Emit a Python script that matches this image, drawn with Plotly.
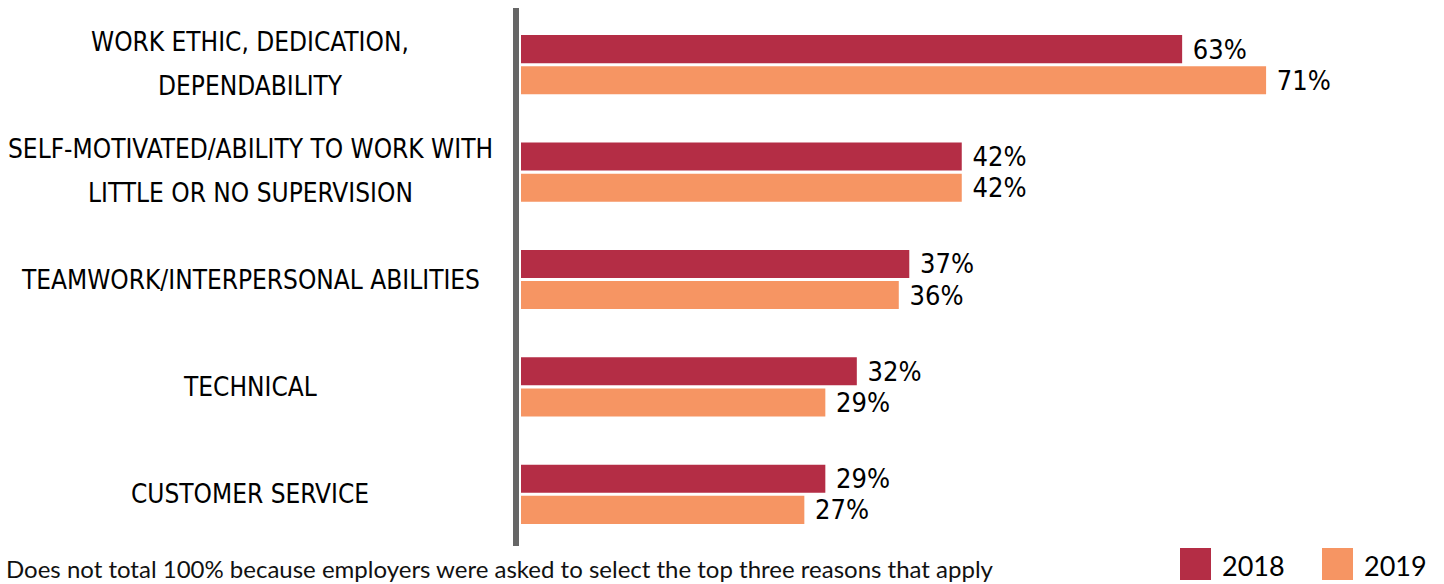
import plotly.graph_objects as go

categories = [
    "WORK ETHIC, DEDICATION,<br>DEPENDABILITY",
    "SELF-MOTIVATED/ABILITY TO WORK WITH<br>LITTLE OR NO SUPERVISION",
    "TEAMWORK/INTERPERSONAL ABILITIES",
    "TECHNICAL",
    "CUSTOMER SERVICE",
]
keys = ["work", "self", "team", "tech", "cust"]
values_2018 = [63, 42, 37, 32, 29]
values_2019 = [71, 42, 36, 29, 27]
series_names = ["2018", "2019"]
colors = ["#B42D45", "#F69563"]
footnote = "Does not total 100% because employers were asked to select the top three reasons that apply"

W, H = 1444, 584
L, R, T, B = 521, 10, 11, 36
PW, PH = W - L - R, H - T - B

def px_x(px):
    return (px - L) / PW

def px_y(py):
    return (H - B - py) / PH

COND = "DejaVu Sans Condensed, Liberation Sans Narrow, sans-serif"

fig = go.Figure()
for name, vals, col in zip(series_names, [values_2018, values_2019], colors):
    fig.add_trace(go.Bar(
        y=keys, x=vals, name=name, orientation="h",
        marker=dict(color=col, line=dict(width=0)),
        text=[f" {v}%" for v in vals], textposition="outside",
        textfont=dict(family=COND, size=27, color="#000000"),
        constraintext="none", cliponaxis=False,
        showlegend=False, hoverinfo="skip",
    ))

annotations = []
for k, c in zip(keys, categories):
    lines = c.split("<br>")
    if len(lines) == 1:
        shifts = [0]
    else:
        shifts = [23, -21]
    for line, s in zip(lines, shifts):
        annotations.append(dict(
            x=px_x(250), xref="paper", y=k, yref="y", text=line, showarrow=False,
            xanchor="center", yanchor="middle", align="center", yshift=s,
            font=dict(family=COND, size=26, color="#000000"),
        ))
annotations.append(dict(
    x=px_x(4), xref="paper", y=px_y(568), yref="paper", text=footnote,
    showarrow=False, xanchor="left", yanchor="middle",
    font=dict(family="Lato, Noto Sans, sans-serif", size=24, color="#111111"),
))
shapes = [dict(type="line", xref="paper", yref="paper",
               x0=px_x(516), x1=px_x(516), y0=px_y(8), y1=px_y(546),
               line=dict(color="#666666", width=6))]
leg_x = [1180, 1322]
for name, col, lx in zip(series_names, colors, leg_x):
    shapes.append(dict(type="rect", xref="paper", yref="paper",
                       x0=px_x(lx), x1=px_x(lx + 31), y0=px_y(580), y1=px_y(548),
                       fillcolor=col, line=dict(width=0)))
    annotations.append(dict(
        x=px_x(lx + 40), xref="paper", y=px_y(565), yref="paper", text=name,
        showarrow=False, xanchor="left", yanchor="middle",
        font=dict(family="Lato, Noto Sans, sans-serif", size=27, color="#000000"),
    ))

fig.update_layout(
    width=W, height=H,
    margin=dict(l=L, r=R, t=T, b=B, pad=0),
    paper_bgcolor="white", plot_bgcolor="white",
    barmode="group", bargap=0.42, bargroupgap=0.1,
    xaxis=dict(range=[0, 87], visible=False, fixedrange=True),
    yaxis=dict(categoryorder="array", categoryarray=keys, autorange="reversed",
               showticklabels=False, showgrid=False, zeroline=False, showline=False,
               ticks="", fixedrange=True),
    annotations=annotations, shapes=shapes,
    showlegend=False,
)
fig.write_html("out.html", config={"displayModeBar": False},
               post_script="document.body.style.margin='0';document.body.style.overflow='hidden';")
